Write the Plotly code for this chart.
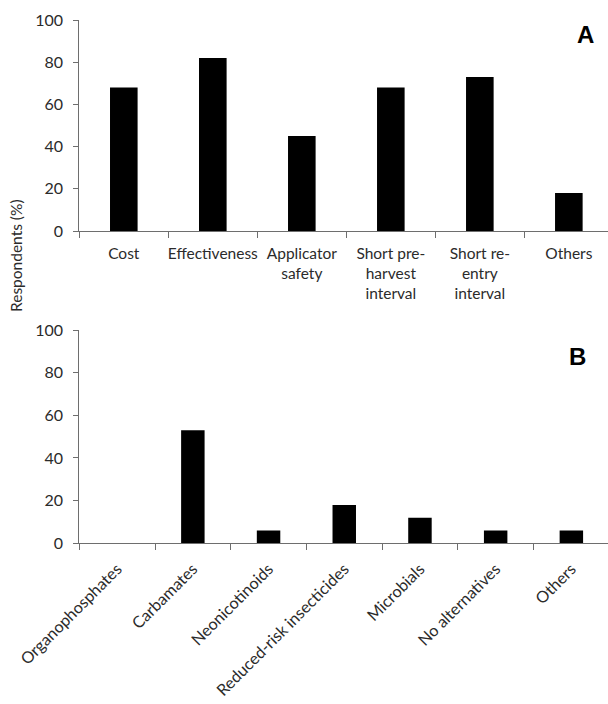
import plotly.graph_objects as go

# Panel A: factors considered when choosing an insecticide
factors = ["Cost", "Effectiveness", "Applicator<br>safety",
           "Short pre-<br>harvest<br>interval", "Short re-<br>entry<br>interval", "Others"]
factor_pct = [68, 82, 45, 68, 73, 18]

# Panel B: insecticide classes used as alternatives
classes = ["Organophosphates", "Carbamates", "Neonicotinoids",
           "Reduced-risk insecticides", "Microbials", "No alternatives", "Others"]
class_pct = [0, 53, 6, 18, 12, 6, 6]

y_ticks = [0, 20, 40, 60, 80, 100]

W, H = 608, 704
FONT = "Lato"
TXT = "#2b2b2b"
AX = "#6e6e6e"

def px_x(x):
    return x / W

def px_y(y):
    return 1 - y / H

fig = go.Figure()
fig.add_trace(go.Bar(x=factors, y=factor_pct, width=0.31,
                     marker=dict(color="#000000", line=dict(width=0)),
                     xaxis="x", yaxis="y", showlegend=False))
fig.add_trace(go.Bar(x=classes, y=class_pct, width=0.31,
                     marker=dict(color="#000000", line=dict(width=0)),
                     xaxis="x2", yaxis="y2", showlegend=False))

x_left = px_x(79.3)
common_x = dict(type="category", showline=True, linecolor=AX, linewidth=1,
                ticks="outside", tickson="boundaries", ticklen=6, tickcolor=AX,
                tickwidth=1, showgrid=False, zeroline=False, automargin=False)
common_y = dict(range=[0, 100], tickvals=y_ticks, showline=True, linecolor=AX,
                linewidth=1, ticks="outside", ticklen=5, tickcolor=AX, tickwidth=1,
                showgrid=False, zeroline=False, automargin=False,
                ticklabelstandoff=7,
                tickfont=dict(family=FONT, size=16, color=TXT))

fig.update_layout(
    width=W, height=H,
    margin=dict(l=0, r=0, t=0, b=0),
    paper_bgcolor="white", plot_bgcolor="white",
    xaxis=dict(common_x, domain=[x_left, 1], range=[-0.5, 5.44],
               anchor="y", tickangle=0, ticklabelstandoff=8,
               tickfont=dict(family=FONT, size=15.5, color=TXT)),
    yaxis=dict(common_y, domain=[px_y(231), px_y(20)], anchor="x"),
    xaxis2=dict(common_x, domain=[x_left, 1], range=[-0.5, 6.484],
                anchor="y2", tickangle=-45, ticklabelstandoff=9,
                tickfont=dict(family=FONT, size=16.2, color=TXT)),
    yaxis2=dict(common_y, domain=[px_y(543.3), px_y(330)], anchor="x2"),
    annotations=[
        dict(text="Respondents (%)", x=px_x(16), y=px_y(256), xref="paper",
             yref="paper", textangle=-90, showarrow=False,
             xanchor="center", yanchor="middle",
             font=dict(family=FONT, size=15.5, color=TXT)),
        dict(text="<b>A</b>", x=px_x(585), y=px_y(34), xref="paper", yref="paper",
             showarrow=False, xanchor="center", yanchor="middle",
             font=dict(family="Liberation Sans", size=24, color="#000000")),
        dict(text="<b>B</b>", x=px_x(577), y=px_y(356), xref="paper", yref="paper",
             showarrow=False, xanchor="center", yanchor="middle",
             font=dict(family="Liberation Sans", size=24, color="#000000")),
    ],
)

fig.write_html("out.html")
